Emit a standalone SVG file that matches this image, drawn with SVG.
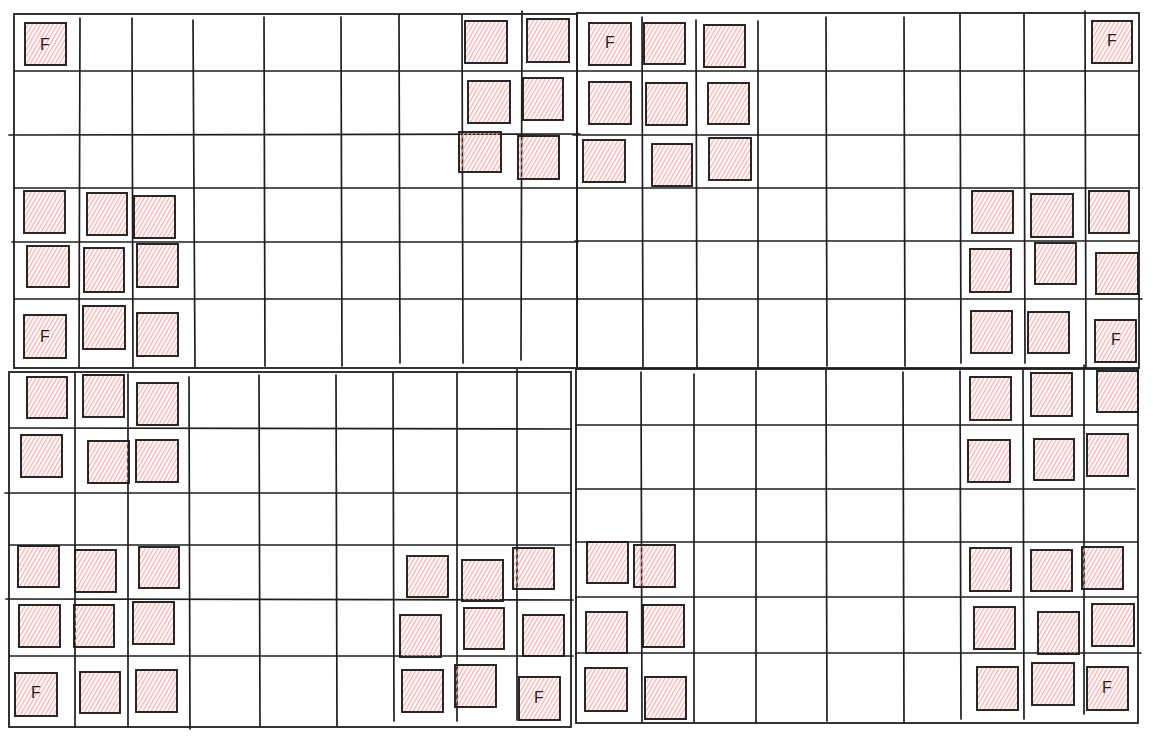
<svg xmlns="http://www.w3.org/2000/svg" width="1153" height="737" viewBox="0 0 1153 737">
<defs>
<pattern id="hatch" patternUnits="userSpaceOnUse" width="3.6" height="4" patternTransform="rotate(30)">
<line x1="0.6" y1="-1" x2="0.6" y2="5" stroke="#ffa8a8" stroke-width="1.2"/>
</pattern>
</defs>
<style>
.sq{fill:url(#hatch);stroke:#1e1e1e;stroke-width:1.9}
.gl line{stroke:#1e1e1e;stroke-width:1.7;stroke-linecap:round}
.gl rect{fill:none;stroke:#1e1e1e;stroke-width:1.8}
.f{font-family:"Liberation Sans",Arial,sans-serif;font-size:16px;fill:#1e1e1e;text-anchor:middle}
</style>
<rect width="1153" height="737" fill="#ffffff"/>
<g id="connectors" class="gl">
<g id="grid-q1">
<rect x="14" y="14" width="563" height="354"/>
<line x1="80" y1="18" x2="79" y2="368"/>
<line x1="132" y1="18" x2="133" y2="368"/>
<line x1="193" y1="20" x2="195" y2="368"/>
<line x1="264" y1="17" x2="265" y2="366"/>
<line x1="341" y1="17" x2="342" y2="366"/>
<line x1="399" y1="14" x2="400" y2="363"/>
<line x1="462" y1="14" x2="463" y2="363"/>
<line x1="522" y1="11" x2="521" y2="360"/>
<line x1="14" y1="71" x2="577" y2="71"/>
<line x1="9" y1="135" x2="580" y2="134"/>
<line x1="14" y1="188" x2="577" y2="188"/>
<line x1="12" y1="242" x2="578" y2="242"/>
<line x1="14" y1="299" x2="578" y2="299"/>
</g>
<g id="grid-q2">
<rect x="577" y="13" width="562" height="355"/>
<line x1="642" y1="17" x2="643" y2="368"/>
<line x1="696" y1="20" x2="697" y2="368"/>
<line x1="758" y1="21" x2="758" y2="368"/>
<line x1="826" y1="17" x2="827" y2="366"/>
<line x1="904" y1="17" x2="905" y2="366"/>
<line x1="960" y1="14" x2="961" y2="363"/>
<line x1="1024" y1="14" x2="1025" y2="363"/>
<line x1="1085" y1="11" x2="1086" y2="368"/>
<line x1="577" y1="71" x2="1139" y2="71"/>
<line x1="573" y1="135" x2="1139" y2="135"/>
<line x1="577" y1="188" x2="1139" y2="188"/>
<line x1="575" y1="241" x2="1139" y2="241"/>
<line x1="577" y1="299" x2="1142" y2="299"/>
</g>
<g id="grid-q3">
<rect x="9" y="372" width="562" height="355"/>
<line x1="75" y1="373" x2="75" y2="727"/>
<line x1="128" y1="374" x2="128" y2="727"/>
<line x1="189" y1="377" x2="190" y2="729"/>
<line x1="259" y1="375" x2="260" y2="726"/>
<line x1="336" y1="375" x2="337" y2="726"/>
<line x1="393" y1="373" x2="394" y2="721"/>
<line x1="457" y1="373" x2="457" y2="721"/>
<line x1="517" y1="369" x2="517" y2="720"/>
<line x1="9" y1="428" x2="571" y2="429"/>
<line x1="5" y1="493" x2="571" y2="493"/>
<line x1="9" y1="545" x2="571" y2="545"/>
<line x1="6" y1="599" x2="573" y2="600"/>
<line x1="9" y1="656" x2="573" y2="656"/>
</g>
<g id="grid-q4">
<rect x="576" y="369" width="562" height="354"/>
<line x1="641" y1="372" x2="642" y2="723"/>
<line x1="694" y1="374" x2="694" y2="723"/>
<line x1="756" y1="371" x2="756" y2="723"/>
<line x1="826" y1="370" x2="827" y2="721"/>
<line x1="903" y1="372" x2="904" y2="723"/>
<line x1="960" y1="371" x2="961" y2="719"/>
<line x1="1023" y1="370" x2="1024" y2="719"/>
<line x1="1084" y1="365" x2="1084" y2="714"/>
<line x1="576" y1="425" x2="1138" y2="425"/>
<line x1="576" y1="489" x2="1135" y2="489"/>
<line x1="576" y1="542" x2="1138" y2="542"/>
<line x1="576" y1="597" x2="1138" y2="597"/>
<line x1="576" y1="653" x2="1141" y2="653"/>
</g>
</g>
<g id="q1-r0c0"><rect class="sq" x="25" y="23" width="41" height="42"/><text class="f" x="45" y="50">F</text></g>
<g id="q1-r0c7"><rect class="sq" x="465" y="21" width="42" height="42"/></g>
<g id="q1-r0c8"><rect class="sq" x="527" y="19" width="42" height="43"/></g>
<g id="q1-r1c7"><rect class="sq" x="468" y="81" width="42" height="42"/></g>
<g id="q1-r1c8"><rect class="sq" x="523" y="78" width="40" height="42"/></g>
<g id="q1-r2c7"><rect class="sq" x="459" y="132" width="42" height="40"/></g>
<g id="q1-r2c8"><rect class="sq" x="518" y="136" width="41" height="43"/></g>
<g id="q1-r3c0"><rect class="sq" x="24" y="191" width="41" height="42"/></g>
<g id="q1-r3c1"><rect class="sq" x="87" y="193" width="40" height="42"/></g>
<g id="q1-r3c2"><rect class="sq" x="134" y="196" width="41" height="42"/></g>
<g id="q1-r4c0"><rect class="sq" x="27" y="246" width="42" height="41"/></g>
<g id="q1-r4c1"><rect class="sq" x="84" y="248" width="40" height="44"/></g>
<g id="q1-r4c2"><rect class="sq" x="137" y="244" width="41" height="43"/></g>
<g id="q1-r5c0"><rect class="sq" x="24" y="315" width="42" height="43"/><text class="f" x="45" y="342">F</text></g>
<g id="q1-r5c1"><rect class="sq" x="83" y="306" width="42" height="43"/></g>
<g id="q1-r5c2"><rect class="sq" x="137" y="313" width="41" height="43"/></g>
<g id="q2-r0c0"><rect class="sq" x="589" y="23" width="42" height="42"/><text class="f" x="610" y="48">F</text></g>
<g id="q2-r0c1"><rect class="sq" x="644" y="23" width="41" height="41"/></g>
<g id="q2-r0c2"><rect class="sq" x="704" y="25" width="41" height="42"/></g>
<g id="q2-r0c8"><rect class="sq" x="1092" y="21" width="40" height="42"/><text class="f" x="1112" y="46">F</text></g>
<g id="q2-r1c0"><rect class="sq" x="589" y="82" width="42" height="42"/></g>
<g id="q2-r1c1"><rect class="sq" x="646" y="83" width="41" height="42"/></g>
<g id="q2-r1c2"><rect class="sq" x="708" y="83" width="41" height="41"/></g>
<g id="q2-r2c0"><rect class="sq" x="583" y="140" width="42" height="42"/></g>
<g id="q2-r2c1"><rect class="sq" x="652" y="144" width="40" height="42"/></g>
<g id="q2-r2c2"><rect class="sq" x="709" y="138" width="42" height="42"/></g>
<g id="q2-r3c6"><rect class="sq" x="972" y="191" width="41" height="42"/></g>
<g id="q2-r3c7"><rect class="sq" x="1031" y="194" width="42" height="43"/></g>
<g id="q2-r3c8"><rect class="sq" x="1089" y="191" width="40" height="42"/></g>
<g id="q2-r4c6"><rect class="sq" x="970" y="249" width="41" height="43"/></g>
<g id="q2-r4c7"><rect class="sq" x="1035" y="243" width="41" height="41"/></g>
<g id="q2-r4c8"><rect class="sq" x="1096" y="253" width="42" height="41"/></g>
<g id="q2-r5c6"><rect class="sq" x="971" y="311" width="41" height="42"/></g>
<g id="q2-r5c7"><rect class="sq" x="1028" y="312" width="41" height="41"/></g>
<g id="q2-r5c8"><rect class="sq" x="1095" y="320" width="41" height="42"/><text class="f" x="1116" y="345">F</text></g>
<g id="q3-r0c0"><rect class="sq" x="27" y="377" width="40" height="41"/></g>
<g id="q3-r0c1"><rect class="sq" x="83" y="375" width="41" height="42"/></g>
<g id="q3-r0c2"><rect class="sq" x="137" y="383" width="41" height="42"/></g>
<g id="q3-r1c0"><rect class="sq" x="21" y="435" width="41" height="42"/></g>
<g id="q3-r1c1"><rect class="sq" x="88" y="441" width="41" height="42"/></g>
<g id="q3-r1c2"><rect class="sq" x="136" y="440" width="42" height="42"/></g>
<g id="q3-r3c0"><rect class="sq" x="18" y="546" width="41" height="41"/></g>
<g id="q3-r3c1"><rect class="sq" x="75" y="550" width="41" height="42"/></g>
<g id="q3-r3c2"><rect class="sq" x="139" y="547" width="40" height="41"/></g>
<g id="q3-r3c6"><rect class="sq" x="407" y="556" width="41" height="41"/></g>
<g id="q3-r3c7"><rect class="sq" x="462" y="560" width="41" height="41"/></g>
<g id="q3-r3c8"><rect class="sq" x="513" y="548" width="41" height="41"/></g>
<g id="q3-r4c0"><rect class="sq" x="19" y="605" width="41" height="42"/></g>
<g id="q3-r4c1"><rect class="sq" x="74" y="605" width="40" height="42"/></g>
<g id="q3-r4c2"><rect class="sq" x="133" y="602" width="41" height="42"/></g>
<g id="q3-r4c6"><rect class="sq" x="400" y="615" width="41" height="42"/></g>
<g id="q3-r4c7"><rect class="sq" x="464" y="608" width="40" height="41"/></g>
<g id="q3-r4c8"><rect class="sq" x="523" y="615" width="41" height="41"/></g>
<g id="q3-r5c0"><rect class="sq" x="15" y="673" width="42" height="43"/><text class="f" x="36" y="698">F</text></g>
<g id="q3-r5c1"><rect class="sq" x="80" y="672" width="40" height="41"/></g>
<g id="q3-r5c2"><rect class="sq" x="136" y="670" width="41" height="42"/></g>
<g id="q3-r5c6"><rect class="sq" x="402" y="670" width="41" height="42"/></g>
<g id="q3-r5c7"><rect class="sq" x="455" y="665" width="41" height="42"/></g>
<g id="q3-r5c8"><rect class="sq" x="519" y="677" width="41" height="43"/><text class="f" x="539" y="703">F</text></g>
<g id="q4-r0c6"><rect class="sq" x="970" y="377" width="41" height="43"/></g>
<g id="q4-r0c7"><rect class="sq" x="1031" y="373" width="41" height="43"/></g>
<g id="q4-r0c8"><rect class="sq" x="1097" y="371" width="41" height="41"/></g>
<g id="q4-r1c6"><rect class="sq" x="968" y="440" width="42" height="42"/></g>
<g id="q4-r1c7"><rect class="sq" x="1034" y="439" width="40" height="41"/></g>
<g id="q4-r1c8"><rect class="sq" x="1087" y="434" width="41" height="42"/></g>
<g id="q4-r3c0"><rect class="sq" x="587" y="542" width="41" height="41"/></g>
<g id="q4-r3c1"><rect class="sq" x="634" y="545" width="41" height="42"/></g>
<g id="q4-r3c6"><rect class="sq" x="970" y="548" width="41" height="43"/></g>
<g id="q4-r3c7"><rect class="sq" x="1031" y="550" width="41" height="41"/></g>
<g id="q4-r3c8"><rect class="sq" x="1082" y="547" width="41" height="42"/></g>
<g id="q4-r4c0"><rect class="sq" x="586" y="612" width="41" height="41"/></g>
<g id="q4-r4c1"><rect class="sq" x="643" y="605" width="41" height="42"/></g>
<g id="q4-r4c6"><rect class="sq" x="974" y="607" width="41" height="42"/></g>
<g id="q4-r4c7"><rect class="sq" x="1038" y="612" width="41" height="42"/></g>
<g id="q4-r4c8"><rect class="sq" x="1092" y="604" width="42" height="42"/></g>
<g id="q4-r5c0"><rect class="sq" x="585" y="668" width="42" height="43"/></g>
<g id="q4-r5c1"><rect class="sq" x="645" y="677" width="41" height="42"/></g>
<g id="q4-r5c6"><rect class="sq" x="977" y="667" width="41" height="43"/></g>
<g id="q4-r5c7"><rect class="sq" x="1032" y="663" width="42" height="42"/></g>
<g id="q4-r5c8"><rect class="sq" x="1087" y="667" width="41" height="43"/><text class="f" x="1107" y="693">F</text></g>
</svg>
